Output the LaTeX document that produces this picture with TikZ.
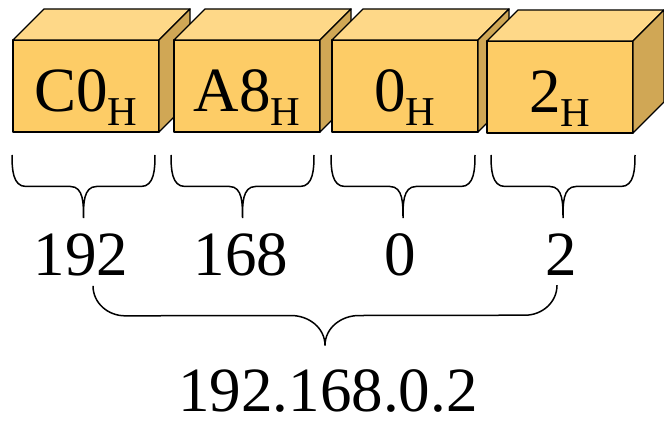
\documentclass[tikz,border=0pt]{standalone}
\usepackage{fontspec}
\setmainfont{LiberationSerif-Regular.ttf}
\usepackage{tikz}
\usetikzlibrary{calc}
\definecolor{myfront}{RGB}{253,204,102}
\definecolor{mytop}{RGB}{254,216,136}
\definecolor{myside}{RGB}{208,167,85}
\newcommand{\hexval}[1]{#1\raisebox{-0.21em}{\fontsize{41}{41}\selectfont H}}
\newcommand{\depthcube}{31}
\newcommand{\cubefaces}[1]{
    \draw[face, fill=mytop] (#1.north west) -- ++(\depthcube,\depthcube) -- ([shift={(\depthcube,\depthcube)}]#1.north east) -- (#1.north east) -- cycle;
    \draw[face, fill=myside] (#1.north east) -- ++(\depthcube,\depthcube) -- ([shift={(\depthcube,\depthcube)}]#1.south east) -- (#1.south east) -- cycle;
}
\newcommand{\curlybrace}[5]{
    \draw[curly] (#1) to[out=-90, in=180] ($(#1)+(#4,-#3/2)$)
        -- ($(#1)!0.5!(#2)+(-#5,-#3/2)$) to[out=0, in=90] ($(#1)!0.5!(#2)+(0,-#3)$)
        to[out=90, in=180] ($(#1)!0.5!(#2)+(#5,-#3/2)$)
        -- ($(#2)+(-#4,-#3/2)$) to[out=0, in=-90] (#2);
}
\tikzset{
    face/.style={draw, line width=1.4pt, line join=round},
    front/.style={face, fill=myfront, rectangle, outer sep=0pt, minimum width=146pt, minimum height=92pt,
        font=\fontsize{63}{70}\selectfont, text height=58pt, text depth=6pt, inner sep=0pt},
    number/.style={anchor=base, inner sep=0pt, font=\fontsize{63}{70}\selectfont},
    curly/.style={line width=1.5pt}
}

\begin{document}
\begin{tikzpicture}[x=1pt, y=1pt]
    \useasboundingbox (0,0) rectangle (664,421);

    \node[front] (bC0) at (86,335) {\hexval{C0}};
    \cubefaces{bC0}
    \node[front] (bA8) at (247,335) {\hexval{A8}};
    \cubefaces{bA8}
    \node[front] (b0) at (405,335) {\hexval{0}};
    \cubefaces{b0}
    \node[front] (b2) at (560,334) {\hexval{2}};
    \cubefaces{b2}

    \node[number] (d192) at (81,146) {192};
    \node[number] (d168) at (241,146) {168};
    \node[number] (d0) at (400,146) {0};
    \node[number] (d2) at (561,146) {2};
    \node[number] (ip) at (328,10) {192.168.0.2};

    \coordinate (bC0l) at ([shift={(-1,-23)}]bC0.south west);
    \coordinate (bC0r) at ([shift={(-4,-23)}]bC0.south east);
    \coordinate (bA8l) at ([shift={(-3,-23)}]bA8.south west);
    \coordinate (bA8r) at ([shift={(-6,-23)}]bA8.south east);
    \coordinate (b0l) at ([shift={(-1,-23)}]b0.south west);
    \coordinate (b0r) at ([shift={(-3,-23)}]b0.south east);
    \coordinate (b2l) at ([shift={(4,-22)}]b2.south west);
    \coordinate (b2r) at ([shift={(2,-22)}]b2.south east);
    \coordinate (ipl) at ([shift={(12,-10)}]d192.south);
    \coordinate (ipr) at ([shift={(-4,-10)}]d2.south);

    \curlybrace{bC0l}{bC0r}{63}{14}{13}
    \curlybrace{bA8l}{bA8r}{63}{14}{13}
    \curlybrace{b0l}{b0r}{63}{14}{13}
    \curlybrace{b2l}{b2r}{63}{14}{13}
    \curlybrace{ipl}{ipr}{60}{32}{34}
\end{tikzpicture}
\end{document}
